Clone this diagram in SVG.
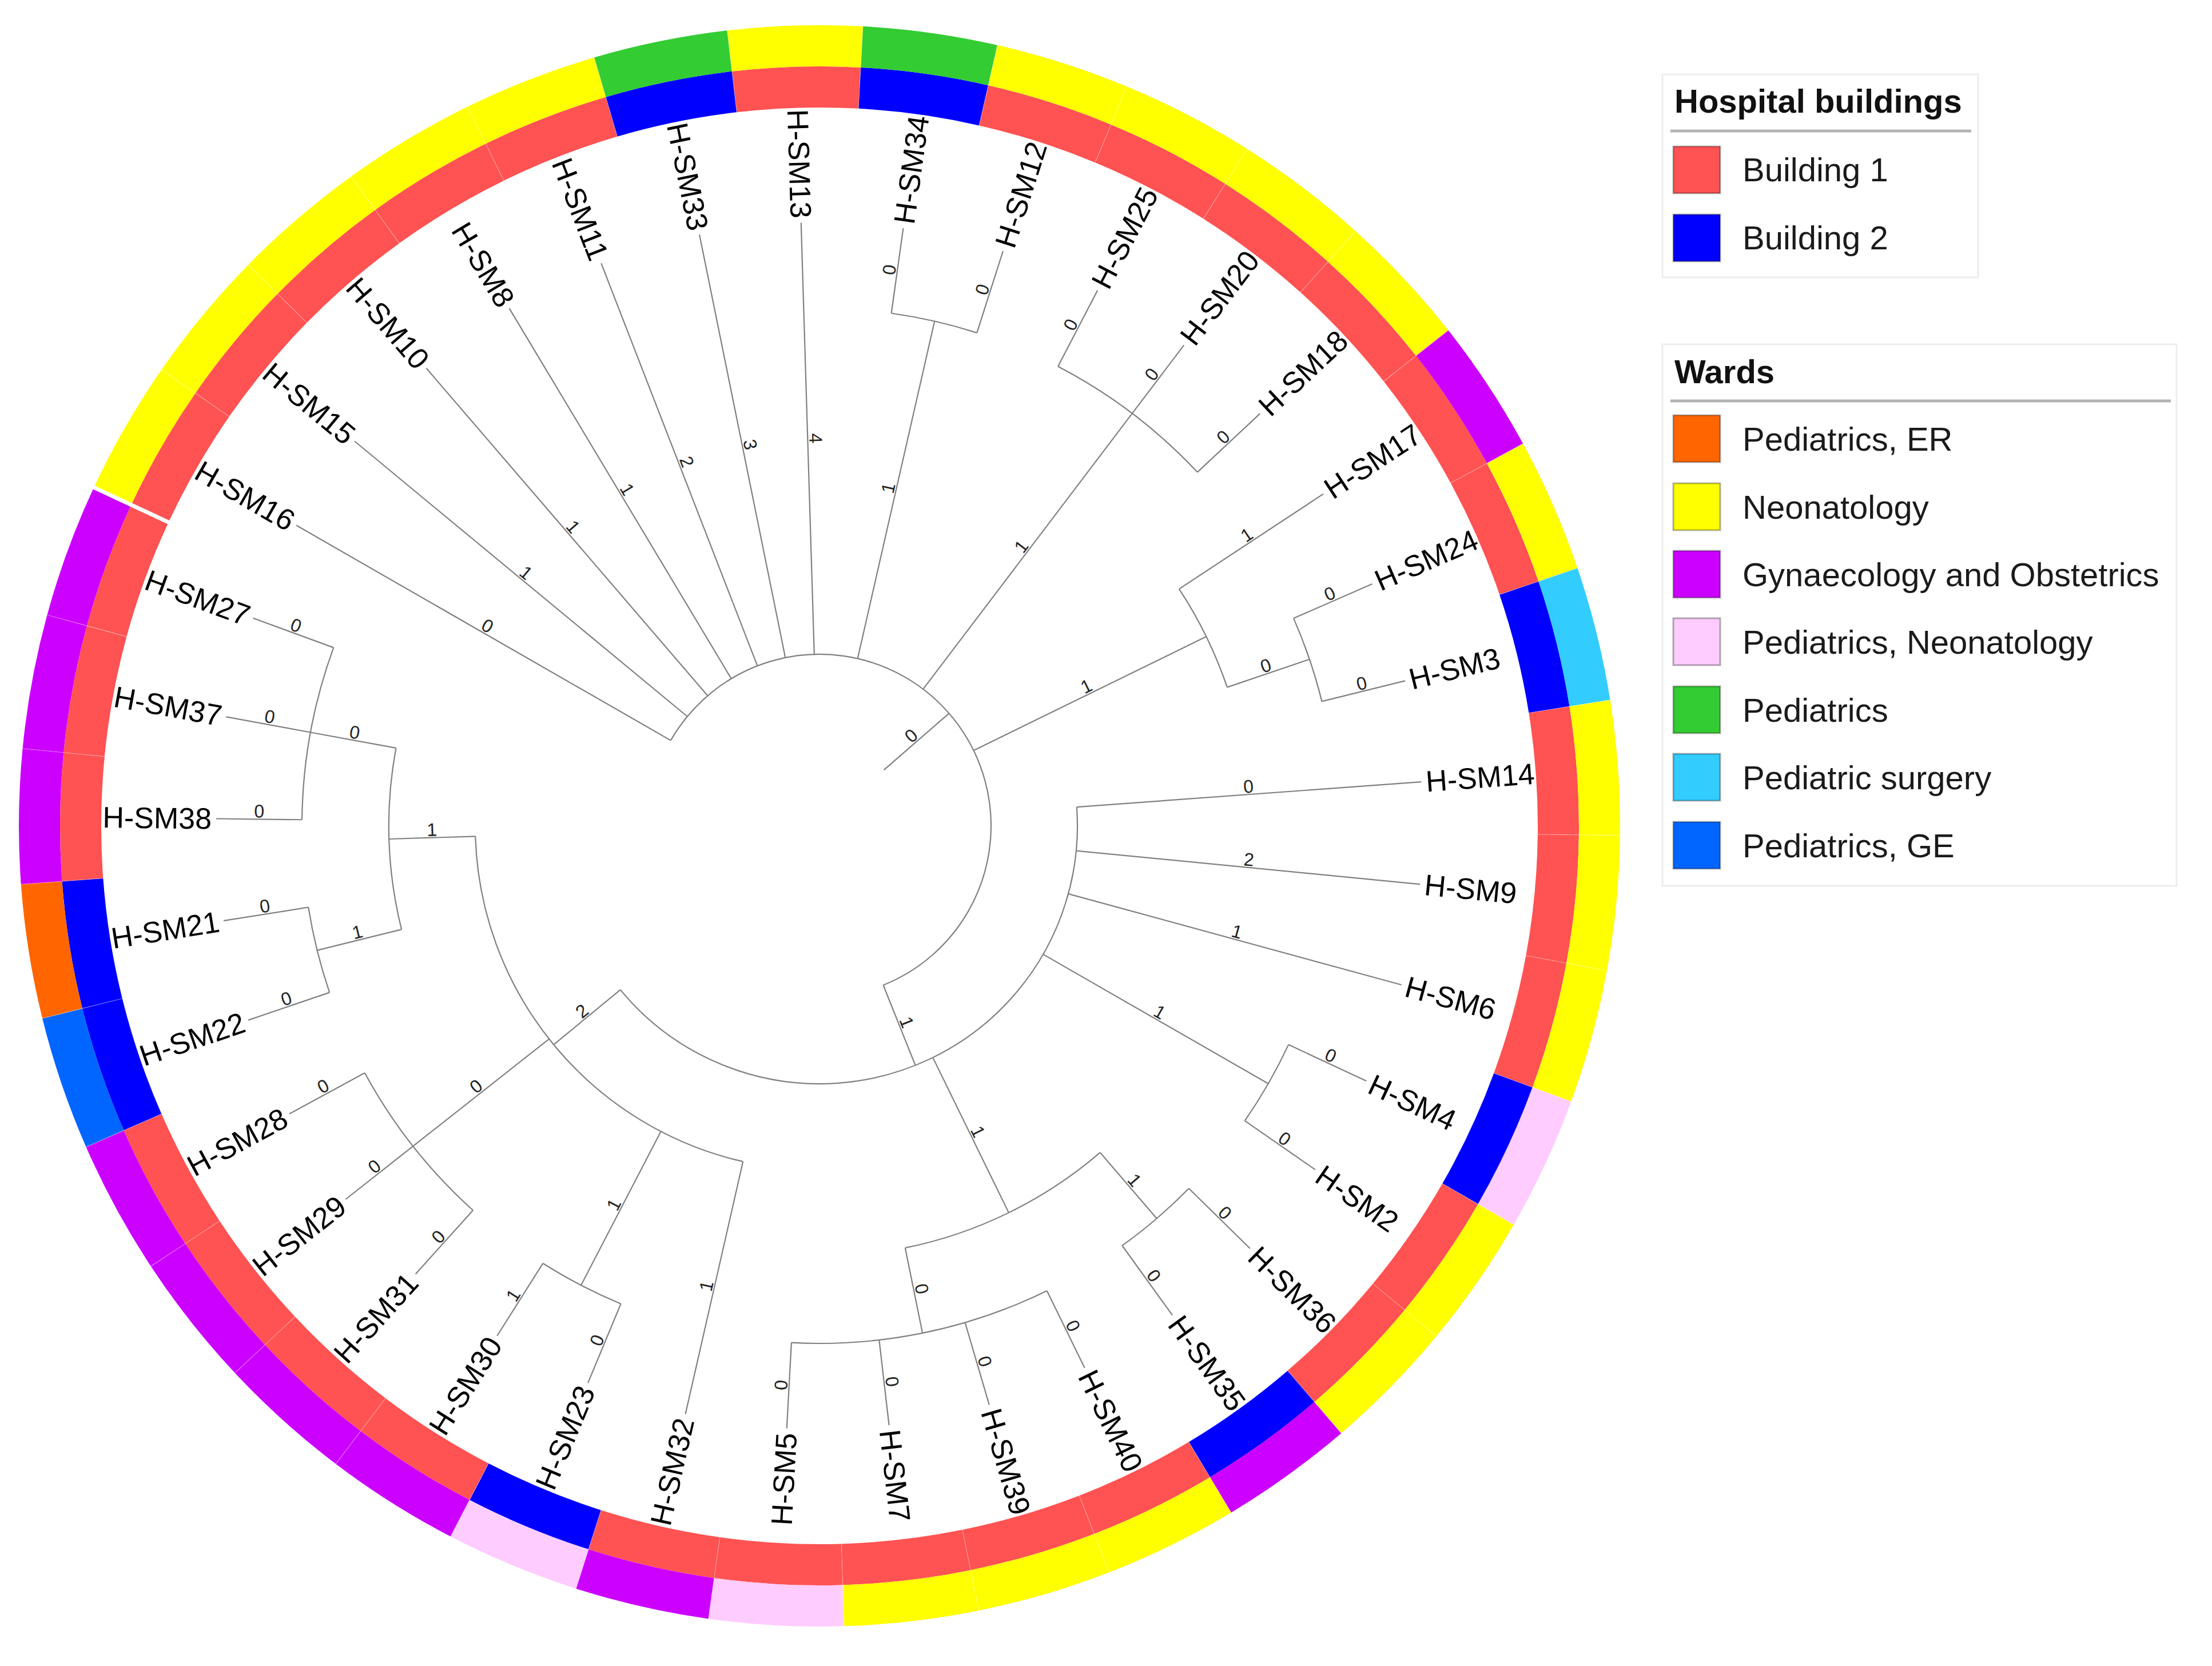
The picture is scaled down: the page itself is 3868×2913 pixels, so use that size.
<svg xmlns="http://www.w3.org/2000/svg" width="3868" height="2913" viewBox="0 0 3868 2913">
<style>
.seg{fill:none;stroke-width:72}
.b1{stroke:#FF5252}.b2{stroke:#0000FF}
.wN{stroke:#FFFF00}.wG{stroke:#CC00FF}.wP{stroke:#33CC33}.wPN{stroke:#FFCCFF}.wS{stroke:#33CCFF}.wGE{stroke:#0066FF}.wER{stroke:#FF6600}
.br line,.br circle{stroke:#808080;stroke-width:2.2;fill:none}
.bl{font-family:"Liberation Sans",Arial,sans-serif;font-size:32px;fill:#222;text-anchor:middle}
.tl{font-family:"Liberation Sans",Arial,sans-serif;font-size:52px;fill:#000;dominant-baseline:central}
.tl.L{text-anchor:end}
.lgbox{fill:#fff;stroke:#ededed;stroke-width:3}
.lgh{font-family:"Liberation Sans",Arial,sans-serif;font-size:58px;font-weight:bold;fill:#111;dominant-baseline:central}
.lgt{font-family:"Liberation Sans",Arial,sans-serif;font-size:58px;fill:#1a1a1a;dominant-baseline:central}
.sw{stroke:#000;stroke-opacity:0.3;stroke-width:3}
.rule{stroke:#b4b4b4;stroke-width:5}
</style>
<rect width="3868" height="2913" fill="#fff"/>

<!-- Rings -->
<g id="rings" transform="translate(1433,1444)">
 <g id="building-ring">
  <circle class="seg b1" r="1292" pathLength="360" stroke-dasharray="9.73 360" transform="rotate(-96.615)"/>
  <circle class="seg b2" r="1292" pathLength="360" stroke-dasharray="9.73 360" transform="rotate(-86.885)"/>
  <circle class="seg b1" r="1292" pathLength="360" stroke-dasharray="9.73 360" transform="rotate(-77.155)"/>
  <circle class="seg b1" r="1292" pathLength="360" stroke-dasharray="9.73 360" transform="rotate(-67.426)"/>
  <circle class="seg b1" r="1292" pathLength="360" stroke-dasharray="9.73 360" transform="rotate(-57.696)"/>
  <circle class="seg b1" r="1292" pathLength="360" stroke-dasharray="9.73 360" transform="rotate(-47.966)"/>
  <circle class="seg b1" r="1292" pathLength="360" stroke-dasharray="9.73 360" transform="rotate(-38.237)"/>
  <circle class="seg b1" r="1292" pathLength="360" stroke-dasharray="9.73 360" transform="rotate(-28.507)"/>
  <circle class="seg b2" r="1292" pathLength="360" stroke-dasharray="9.73 360" transform="rotate(-18.777)"/>
  <circle class="seg b1" r="1292" pathLength="360" stroke-dasharray="9.73 360" transform="rotate(-9.048)"/>
  <circle class="seg b1" r="1292" pathLength="360" stroke-dasharray="9.73 360" transform="rotate(0.682)"/>
  <circle class="seg b1" r="1292" pathLength="360" stroke-dasharray="9.73 360" transform="rotate(10.412)"/>
  <circle class="seg b2" r="1292" pathLength="360" stroke-dasharray="9.73 360" transform="rotate(20.141)"/>
  <circle class="seg b1" r="1292" pathLength="360" stroke-dasharray="9.73 360" transform="rotate(29.871)"/>
  <circle class="seg b1" r="1292" pathLength="360" stroke-dasharray="9.73 360" transform="rotate(39.601)"/>
  <circle class="seg b2" r="1292" pathLength="360" stroke-dasharray="9.73 360" transform="rotate(49.331)"/>
  <circle class="seg b1" r="1292" pathLength="360" stroke-dasharray="9.73 360" transform="rotate(59.060)"/>
  <circle class="seg b1" r="1292" pathLength="360" stroke-dasharray="9.73 360" transform="rotate(68.790)"/>
  <circle class="seg b1" r="1292" pathLength="360" stroke-dasharray="9.73 360" transform="rotate(78.520)"/>
  <circle class="seg b1" r="1292" pathLength="360" stroke-dasharray="9.73 360" transform="rotate(88.249)"/>
  <circle class="seg b1" r="1292" pathLength="360" stroke-dasharray="9.73 360" transform="rotate(97.979)"/>
  <circle class="seg b2" r="1292" pathLength="360" stroke-dasharray="9.73 360" transform="rotate(107.709)"/>
  <circle class="seg b1" r="1292" pathLength="360" stroke-dasharray="9.73 360" transform="rotate(117.438)"/>
  <circle class="seg b1" r="1292" pathLength="360" stroke-dasharray="9.73 360" transform="rotate(127.168)"/>
  <circle class="seg b1" r="1292" pathLength="360" stroke-dasharray="9.73 360" transform="rotate(136.898)"/>
  <circle class="seg b1" r="1292" pathLength="360" stroke-dasharray="9.73 360" transform="rotate(146.627)"/>
  <circle class="seg b2" r="1292" pathLength="360" stroke-dasharray="9.73 360" transform="rotate(156.357)"/>
  <circle class="seg b2" r="1292" pathLength="360" stroke-dasharray="9.73 360" transform="rotate(166.087)"/>
  <circle class="seg b1" r="1292" pathLength="360" stroke-dasharray="9.73 360" transform="rotate(175.816)"/>
  <circle class="seg b1" r="1292" pathLength="360" stroke-dasharray="9.73 360" transform="rotate(185.546)"/>
  <circle class="seg b1" r="1292" pathLength="360" stroke-dasharray="9.73 360" transform="rotate(195.276)"/>
  <circle class="seg b1" r="1292" pathLength="360" stroke-dasharray="9.73 360" transform="rotate(205.005)"/>
  <circle class="seg b1" r="1292" pathLength="360" stroke-dasharray="9.73 360" transform="rotate(214.735)"/>
  <circle class="seg b1" r="1292" pathLength="360" stroke-dasharray="9.73 360" transform="rotate(224.465)"/>
  <circle class="seg b1" r="1292" pathLength="360" stroke-dasharray="9.73 360" transform="rotate(234.195)"/>
  <circle class="seg b1" r="1292" pathLength="360" stroke-dasharray="9.73 360" transform="rotate(243.924)"/>
  <circle class="seg b2" r="1292" pathLength="360" stroke-dasharray="9.73 360" transform="rotate(253.654)"/>
 </g>
 <g id="ward-ring">
  <circle class="seg wN" r="1364" pathLength="360" stroke-dasharray="9.73 360" transform="rotate(-96.615)"/>
  <circle class="seg wP" r="1364" pathLength="360" stroke-dasharray="9.73 360" transform="rotate(-86.885)"/>
  <circle class="seg wN" r="1364" pathLength="360" stroke-dasharray="9.73 360" transform="rotate(-77.155)"/>
  <circle class="seg wN" r="1364" pathLength="360" stroke-dasharray="9.73 360" transform="rotate(-67.426)"/>
  <circle class="seg wN" r="1364" pathLength="360" stroke-dasharray="9.73 360" transform="rotate(-57.696)"/>
  <circle class="seg wN" r="1364" pathLength="360" stroke-dasharray="9.73 360" transform="rotate(-47.966)"/>
  <circle class="seg wG" r="1364" pathLength="360" stroke-dasharray="9.73 360" transform="rotate(-38.237)"/>
  <circle class="seg wN" r="1364" pathLength="360" stroke-dasharray="9.73 360" transform="rotate(-28.507)"/>
  <circle class="seg wS" r="1364" pathLength="360" stroke-dasharray="9.73 360" transform="rotate(-18.777)"/>
  <circle class="seg wN" r="1364" pathLength="360" stroke-dasharray="9.73 360" transform="rotate(-9.048)"/>
  <circle class="seg wN" r="1364" pathLength="360" stroke-dasharray="9.73 360" transform="rotate(0.682)"/>
  <circle class="seg wN" r="1364" pathLength="360" stroke-dasharray="9.73 360" transform="rotate(10.412)"/>
  <circle class="seg wPN" r="1364" pathLength="360" stroke-dasharray="9.73 360" transform="rotate(20.141)"/>
  <circle class="seg wN" r="1364" pathLength="360" stroke-dasharray="9.73 360" transform="rotate(29.871)"/>
  <circle class="seg wN" r="1364" pathLength="360" stroke-dasharray="9.73 360" transform="rotate(39.601)"/>
  <circle class="seg wG" r="1364" pathLength="360" stroke-dasharray="9.73 360" transform="rotate(49.331)"/>
  <circle class="seg wN" r="1364" pathLength="360" stroke-dasharray="9.73 360" transform="rotate(59.060)"/>
  <circle class="seg wN" r="1364" pathLength="360" stroke-dasharray="9.73 360" transform="rotate(68.790)"/>
  <circle class="seg wN" r="1364" pathLength="360" stroke-dasharray="9.73 360" transform="rotate(78.520)"/>
  <circle class="seg wPN" r="1364" pathLength="360" stroke-dasharray="9.73 360" transform="rotate(88.249)"/>
  <circle class="seg wG" r="1364" pathLength="360" stroke-dasharray="9.73 360" transform="rotate(97.979)"/>
  <circle class="seg wPN" r="1364" pathLength="360" stroke-dasharray="9.73 360" transform="rotate(107.709)"/>
  <circle class="seg wG" r="1364" pathLength="360" stroke-dasharray="9.73 360" transform="rotate(117.438)"/>
  <circle class="seg wG" r="1364" pathLength="360" stroke-dasharray="9.73 360" transform="rotate(127.168)"/>
  <circle class="seg wG" r="1364" pathLength="360" stroke-dasharray="9.73 360" transform="rotate(136.898)"/>
  <circle class="seg wG" r="1364" pathLength="360" stroke-dasharray="9.73 360" transform="rotate(146.627)"/>
  <circle class="seg wGE" r="1364" pathLength="360" stroke-dasharray="9.73 360" transform="rotate(156.357)"/>
  <circle class="seg wER" r="1364" pathLength="360" stroke-dasharray="9.73 360" transform="rotate(166.087)"/>
  <circle class="seg wG" r="1364" pathLength="360" stroke-dasharray="9.73 360" transform="rotate(175.816)"/>
  <circle class="seg wG" r="1364" pathLength="360" stroke-dasharray="9.73 360" transform="rotate(185.546)"/>
  <circle class="seg wG" r="1364" pathLength="360" stroke-dasharray="9.73 360" transform="rotate(195.276)"/>
  <circle class="seg wN" r="1364" pathLength="360" stroke-dasharray="9.73 360" transform="rotate(205.005)"/>
  <circle class="seg wN" r="1364" pathLength="360" stroke-dasharray="9.73 360" transform="rotate(214.735)"/>
  <circle class="seg wN" r="1364" pathLength="360" stroke-dasharray="9.73 360" transform="rotate(224.465)"/>
  <circle class="seg wN" r="1364" pathLength="360" stroke-dasharray="9.73 360" transform="rotate(234.195)"/>
  <circle class="seg wN" r="1364" pathLength="360" stroke-dasharray="9.73 360" transform="rotate(243.924)"/>
  <circle class="seg wP" r="1364" pathLength="360" stroke-dasharray="9.73 360" transform="rotate(253.654)"/>
 </g>
 <!-- faint segment separators -->
 <circle r="1328" fill="none" stroke="#fff" stroke-opacity="0.3" stroke-width="144" pathLength="360" stroke-dasharray="0.05 9.6797" transform="rotate(-96.64)"/>
 <line transform="rotate(295.0)" x1="0" y1="-1252" x2="0" y2="-1404" stroke="#fff" stroke-width="7"/>
</g>

<!-- Connectors (tree branches and node arcs) -->
<g id="connectors" class="br" transform="translate(1433,1444)">
 <!-- node arcs -->
 <circle r="300" pathLength="360" stroke-dasharray="218.31 360" transform="rotate(209.87)"/>
 <circle r="451" pathLength="360" stroke-dasharray="144.725 360" transform="rotate(-4.18)"/>
 <circle r="602" pathLength="360" stroke-dasharray="75.41 360" transform="rotate(102.84)"/>
 <circle r="753" pathLength="360" stroke-dasharray="24.325 360" transform="rotate(166.085)"/>
 <circle r="753" pathLength="360" stroke-dasharray="29.185 360" transform="rotate(49.335)"/>
 <circle r="753" pathLength="360" stroke-dasharray="14.595 360" transform="rotate(-33.37)"/>
 <circle r="905" pathLength="360" stroke-dasharray="9.73 360" transform="rotate(-82.02)"/>
 <circle r="905" pathLength="360" stroke-dasharray="19.46 360" transform="rotate(-62.56)"/>
 <circle r="905" pathLength="360" stroke-dasharray="9.73 360" transform="rotate(-23.64)"/>
 <circle r="905" pathLength="360" stroke-dasharray="9.73 360" transform="rotate(25.01)"/>
 <circle r="905" pathLength="360" stroke-dasharray="9.73 360" transform="rotate(44.47)"/>
 <circle r="905" pathLength="360" stroke-dasharray="29.18 360" transform="rotate(63.93)"/>
 <circle r="905" pathLength="360" stroke-dasharray="9.73 360" transform="rotate(112.57)"/>
 <circle r="905" pathLength="360" stroke-dasharray="19.46 360" transform="rotate(132.03)"/>
 <circle r="905" pathLength="360" stroke-dasharray="9.73 360" transform="rotate(161.22)"/>
 <circle r="905" pathLength="360" stroke-dasharray="19.46 360" transform="rotate(180.68)"/>
 <!-- radial branches -->
 <line transform="rotate(49.03)" y1="-149" y2="-300"/>
 <line transform="rotate(299.87)" y1="-300" y2="-1055"/>
 <line transform="rotate(309.60)" y1="-300" y2="-1055"/>
 <line transform="rotate(319.33)" y1="-300" y2="-1055"/>
 <line transform="rotate(329.06)" y1="-300" y2="-1055"/>
 <line transform="rotate(338.79)" y1="-300" y2="-1055"/>
 <line transform="rotate(348.52)" y1="-300" y2="-1055"/>
 <line transform="rotate(358.25)" y1="-300" y2="-1055"/>
 <line transform="rotate(12.845)" y1="-300" y2="-905"/>
 <line transform="rotate(37.17)" y1="-300" y2="-905"/>
 <line transform="rotate(63.93)" y1="-300" y2="-753"/>
 <line transform="rotate(158.18)" y1="-300" y2="-451"/>
 <line transform="rotate(7.98)" y1="-905" y2="-1055"/>
 <line transform="rotate(17.71)" y1="-905" y2="-1055"/>
 <line transform="rotate(27.44)" y1="-905" y2="-1055"/>
 <line transform="rotate(37.17)" y1="-905" y2="-1055"/>
 <line transform="rotate(46.90)" y1="-905" y2="-1055"/>
 <line transform="rotate(56.63)" y1="-753" y2="-1055"/>
 <line transform="rotate(71.225)" y1="-753" y2="-905"/>
 <line transform="rotate(66.36)" y1="-905" y2="-1055"/>
 <line transform="rotate(76.09)" y1="-905" y2="-1055"/>
 <line transform="rotate(85.82)" y1="-451" y2="-1055"/>
 <line transform="rotate(95.55)" y1="-451" y2="-1055"/>
 <line transform="rotate(105.28)" y1="-451" y2="-1055"/>
 <line transform="rotate(119.875)" y1="-451" y2="-905"/>
 <line transform="rotate(153.93)" y1="-451" y2="-753"/>
 <line transform="rotate(230.545)" y1="-451" y2="-602"/>
 <line transform="rotate(115.01)" y1="-905" y2="-1055"/>
 <line transform="rotate(124.74)" y1="-905" y2="-1055"/>
 <line transform="rotate(139.335)" y1="-753" y2="-905"/>
 <line transform="rotate(168.52)" y1="-753" y2="-905"/>
 <line transform="rotate(134.47)" y1="-905" y2="-1055"/>
 <line transform="rotate(144.20)" y1="-905" y2="-1055"/>
 <line transform="rotate(153.93)" y1="-905" y2="-1055"/>
 <line transform="rotate(163.66)" y1="-905" y2="-1055"/>
 <line transform="rotate(173.38)" y1="-905" y2="-1055"/>
 <line transform="rotate(183.11)" y1="-905" y2="-1055"/>
 <line transform="rotate(268.25)" y1="-602" y2="-753"/>
 <line transform="rotate(231.76)" y1="-602" y2="-905"/>
 <line transform="rotate(207.435)" y1="-602" y2="-905"/>
 <line transform="rotate(192.84)" y1="-602" y2="-1055"/>
 <line transform="rotate(280.41)" y1="-753" y2="-905"/>
 <line transform="rotate(256.085)" y1="-753" y2="-905"/>
 <line transform="rotate(290.14)" y1="-905" y2="-1055"/>
 <line transform="rotate(280.41)" y1="-905" y2="-1055"/>
 <line transform="rotate(270.68)" y1="-905" y2="-1055"/>
 <line transform="rotate(260.95)" y1="-905" y2="-1055"/>
 <line transform="rotate(251.22)" y1="-905" y2="-1055"/>
 <line transform="rotate(222.03)" y1="-905" y2="-1055"/>
 <line transform="rotate(231.76)" y1="-905" y2="-1055"/>
 <line transform="rotate(241.49)" y1="-905" y2="-1055"/>
 <line transform="rotate(212.30)" y1="-905" y2="-1055"/>
 <line transform="rotate(202.57)" y1="-905" y2="-1055"/>
</g>

<!-- Branch length labels -->
<g id="branch-labels" class="bl" transform="translate(1433,1444)">
 <text transform="rotate(-40.97)" x="224.5" y="-3">0</text>
 <text transform="rotate(389.87)" x="-677.5" y="-3">0</text>
 <text transform="rotate(399.60)" x="-677.5" y="-3">1</text>
 <text transform="rotate(409.33)" x="-677.5" y="-3">1</text>
 <text transform="rotate(419.06)" x="-677.5" y="-3">1</text>
 <text transform="rotate(428.79)" x="-677.5" y="-3">2</text>
 <text transform="rotate(438.52)" x="-677.5" y="-3">3</text>
 <text transform="rotate(448.25)" x="-677.5" y="-3">4</text>
 <text transform="rotate(-77.155)" x="602.5" y="-3">1</text>
 <text transform="rotate(-52.83)" x="602.5" y="-3">1</text>
 <text transform="rotate(-26.07)" x="526.5" y="-3">1</text>
 <text transform="rotate(68.18)" x="375.5" y="-3">1</text>
 <text transform="rotate(-82.02)" x="980" y="-3">0</text>
 <text transform="rotate(-72.29)" x="980" y="-3">0</text>
 <text transform="rotate(-62.56)" x="980" y="-3">0</text>
 <text transform="rotate(-52.83)" x="980" y="-3">0</text>
 <text transform="rotate(-43.10)" x="980" y="-3">0</text>
 <text transform="rotate(-33.37)" x="904" y="-3">1</text>
 <text transform="rotate(-18.775)" x="829" y="-3">0</text>
 <text transform="rotate(-23.64)" x="980" y="-3">0</text>
 <text transform="rotate(-13.91)" x="980" y="-3">0</text>
 <text transform="rotate(-4.18)" x="753" y="-3">0</text>
 <text transform="rotate(5.55)" x="753" y="-3">2</text>
 <text transform="rotate(15.28)" x="753" y="-3">1</text>
 <text transform="rotate(29.875)" x="678" y="-3">1</text>
 <text transform="rotate(63.93)" x="602" y="-3">1</text>
 <text transform="rotate(320.545)" x="-526.5" y="-3">2</text>
 <text transform="rotate(25.01)" x="980" y="-3">0</text>
 <text transform="rotate(34.74)" x="980" y="-3">0</text>
 <text transform="rotate(49.335)" x="829" y="-3">1</text>
 <text transform="rotate(78.52)" x="829" y="-3">0</text>
 <text transform="rotate(44.47)" x="980" y="-3">0</text>
 <text transform="rotate(54.20)" x="980" y="-3">0</text>
 <text transform="rotate(63.93)" x="980" y="-3">0</text>
 <text transform="rotate(73.66)" x="980" y="-3">0</text>
 <text transform="rotate(83.38)" x="980" y="-3">0</text>
 <text transform="rotate(273.11)" x="-980" y="-3">0</text>
 <text transform="rotate(358.25)" x="-677.5" y="-3">1</text>
 <text transform="rotate(321.76)" x="-753.5" y="-3">0</text>
 <text transform="rotate(297.435)" x="-753.5" y="-3">1</text>
 <text transform="rotate(282.84)" x="-828.5" y="-3">1</text>
 <text transform="rotate(370.41)" x="-829" y="-3">0</text>
 <text transform="rotate(346.085)" x="-829" y="-3">1</text>
 <text transform="rotate(380.14)" x="-980" y="-3">0</text>
 <text transform="rotate(370.41)" x="-980" y="-3">0</text>
 <text transform="rotate(360.68)" x="-980" y="-3">0</text>
 <text transform="rotate(350.95)" x="-980" y="-3">0</text>
 <text transform="rotate(341.22)" x="-980" y="-3">0</text>
 <text transform="rotate(312.03)" x="-980" y="-3">0</text>
 <text transform="rotate(321.76)" x="-980" y="-3">0</text>
 <text transform="rotate(331.49)" x="-980" y="-3">0</text>
 <text transform="rotate(302.30)" x="-980" y="-3">1</text>
 <text transform="rotate(292.57)" x="-980" y="-3">0</text>
</g>

<!-- Tip nodes -->
<g id="tips" transform="translate(1433,1444)">
 <g id="tip-H-SM13"><text class="tl L" transform="rotate(448.25)" x="-1063">H-SM13</text></g>
 <g id="tip-H-SM34"><text class="tl" transform="rotate(-82.02)" x="1063">H-SM34</text></g>
 <g id="tip-H-SM12"><text class="tl" transform="rotate(-72.29)" x="1063">H-SM12</text></g>
 <g id="tip-H-SM25"><text class="tl" transform="rotate(-62.56)" x="1063">H-SM25</text></g>
 <g id="tip-H-SM20"><text class="tl" transform="rotate(-52.83)" x="1063">H-SM20</text></g>
 <g id="tip-H-SM18"><text class="tl" transform="rotate(-43.10)" x="1063">H-SM18</text></g>
 <g id="tip-H-SM17"><text class="tl" transform="rotate(-33.37)" x="1063">H-SM17</text></g>
 <g id="tip-H-SM24"><text class="tl" transform="rotate(-23.64)" x="1063">H-SM24</text></g>
 <g id="tip-H-SM3"><text class="tl" transform="rotate(-13.91)" x="1063">H-SM3</text></g>
 <g id="tip-H-SM14"><text class="tl" transform="rotate(-4.18)" x="1063">H-SM14</text></g>
 <g id="tip-H-SM9"><text class="tl" transform="rotate(5.55)" x="1063">H-SM9</text></g>
 <g id="tip-H-SM6"><text class="tl" transform="rotate(15.28)" x="1063">H-SM6</text></g>
 <g id="tip-H-SM4"><text class="tl" transform="rotate(25.01)" x="1063">H-SM4</text></g>
 <g id="tip-H-SM2"><text class="tl" transform="rotate(34.74)" x="1063">H-SM2</text></g>
 <g id="tip-H-SM36"><text class="tl" transform="rotate(44.47)" x="1063">H-SM36</text></g>
 <g id="tip-H-SM35"><text class="tl" transform="rotate(54.20)" x="1063">H-SM35</text></g>
 <g id="tip-H-SM40"><text class="tl" transform="rotate(63.93)" x="1063">H-SM40</text></g>
 <g id="tip-H-SM39"><text class="tl" transform="rotate(73.66)" x="1063">H-SM39</text></g>
 <g id="tip-H-SM7"><text class="tl" transform="rotate(83.38)" x="1063">H-SM7</text></g>
 <g id="tip-H-SM5"><text class="tl L" transform="rotate(273.11)" x="-1063">H-SM5</text></g>
 <g id="tip-H-SM32"><text class="tl L" transform="rotate(282.84)" x="-1063">H-SM32</text></g>
 <g id="tip-H-SM23"><text class="tl L" transform="rotate(292.57)" x="-1063">H-SM23</text></g>
 <g id="tip-H-SM30"><text class="tl L" transform="rotate(302.30)" x="-1063">H-SM30</text></g>
 <g id="tip-H-SM31"><text class="tl L" transform="rotate(312.03)" x="-1063">H-SM31</text></g>
 <g id="tip-H-SM29"><text class="tl L" transform="rotate(321.76)" x="-1063">H-SM29</text></g>
 <g id="tip-H-SM28"><text class="tl L" transform="rotate(331.49)" x="-1063">H-SM28</text></g>
 <g id="tip-H-SM22"><text class="tl L" transform="rotate(341.22)" x="-1063">H-SM22</text></g>
 <g id="tip-H-SM21"><text class="tl L" transform="rotate(350.95)" x="-1063">H-SM21</text></g>
 <g id="tip-H-SM38"><text class="tl L" transform="rotate(360.68)" x="-1063">H-SM38</text></g>
 <g id="tip-H-SM37"><text class="tl L" transform="rotate(370.41)" x="-1063">H-SM37</text></g>
 <g id="tip-H-SM27"><text class="tl L" transform="rotate(380.14)" x="-1063">H-SM27</text></g>
 <g id="tip-H-SM16"><text class="tl L" transform="rotate(389.87)" x="-1063">H-SM16</text></g>
 <g id="tip-H-SM15"><text class="tl L" transform="rotate(399.60)" x="-1063">H-SM15</text></g>
 <g id="tip-H-SM10"><text class="tl L" transform="rotate(409.33)" x="-1063">H-SM10</text></g>
 <g id="tip-H-SM8"><text class="tl L" transform="rotate(419.06)" x="-1063">H-SM8</text></g>
 <g id="tip-H-SM11"><text class="tl L" transform="rotate(428.79)" x="-1063">H-SM11</text></g>
 <g id="tip-H-SM33"><text class="tl L" transform="rotate(438.52)" x="-1063">H-SM33</text></g>
</g>

<!-- Legends -->
<g id="legend-buildings">
 <rect class="lgbox" x="2907" y="130" width="552" height="355"/>
 <text class="lgh" x="2928" y="176">Hospital buildings</text>
 <line class="rule" x1="2921" y1="229" x2="3447" y2="229"/>
 <rect class="sw" x="2926" y="256" width="82" height="82" fill="#FF5252"/>
 <text class="lgt" x="3047" y="296">Building 1</text>
 <rect class="sw" x="2926" y="375" width="82" height="82" fill="#0000FF"/>
 <text class="lgt" x="3047" y="415">Building 2</text>
</g>
<g id="legend-wards">
 <rect class="lgbox" x="2907" y="602" width="899" height="947"/>
 <text class="lgh" x="2928" y="649">Wards</text>
 <line class="rule" x1="2921" y1="701" x2="3796" y2="701"/>
 <rect class="sw" x="2926" y="726" width="82" height="82" fill="#FF6600"/>
 <text class="lgt" x="3047" y="767">Pediatrics, ER</text>
 <rect class="sw" x="2926" y="845" width="82" height="82" fill="#FFFF00"/>
 <text class="lgt" x="3047" y="886">Neonatology</text>
 <rect class="sw" x="2926" y="963" width="82" height="82" fill="#CC00FF"/>
 <text class="lgt" x="3047" y="1004">Gynaecology and Obstetrics</text>
 <rect class="sw" x="2926" y="1081" width="82" height="82" fill="#FFCCFF"/>
 <text class="lgt" x="3047" y="1122">Pediatrics, Neonatology</text>
 <rect class="sw" x="2926" y="1200" width="82" height="82" fill="#33CC33"/>
 <text class="lgt" x="3047" y="1241">Pediatrics</text>
 <rect class="sw" x="2926" y="1318" width="82" height="82" fill="#33CCFF"/>
 <text class="lgt" x="3047" y="1359">Pediatric surgery</text>
 <rect class="sw" x="2926" y="1437" width="82" height="82" fill="#0066FF"/>
 <text class="lgt" x="3047" y="1478">Pediatrics, GE</text>
</g>
</svg>
